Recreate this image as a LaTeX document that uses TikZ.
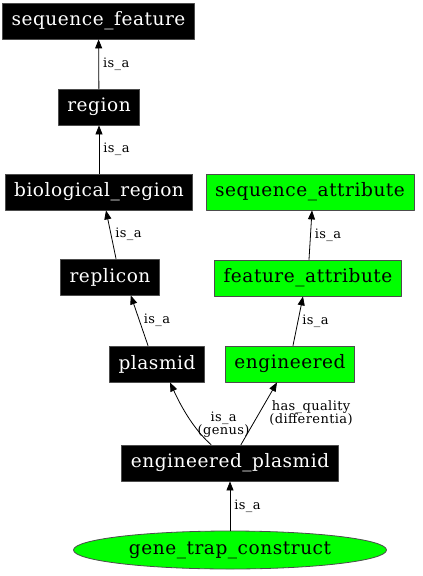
\documentclass[tikz,border=0pt]{standalone}
\usepackage{fontspec}
\setmainfont{DejaVu Serif}[LetterSpace=3]
\usetikzlibrary{arrows.meta,shapes.geometric}

\begin{document}
\begin{tikzpicture}[x=1pt,y=-1pt,line cap=round,line join=round,
    term/.style={draw=black!70,line width=.8pt,fill=black,text=white,minimum height=36pt,inner xsep=9pt,font=\fontsize{18.5}{20}\selectfont},
    attr/.style={term,fill=green,text=black},
    rel/.style={-{Triangle[length=9pt,width=7pt]},line width=.8pt},
    lab/.style={font=\fontsize{13}{13}\selectfont,align=center,inner sep=2pt}]
  \useasboundingbox (0,0) rectangle (423,576);
  % terms
  \node[term] (sf) at (98.5,21) {sequence\_feature};
  \node[term] (rg) at (99,107) {region};
  \node[term] (br) at (99,192) {biological\_region};
  \node[term] (rp) at (110,277) {replicon};
  \node[term] (pl) at (157,364) {plasmid};
  \node[term] (ep) at (230,463) {engineered\_plasmid};
  % attributes
  \node[attr] (sa) at (310,192) {sequence\_attribute};
  \node[attr] (fa) at (308,278) {feature\_attribute};
  \node[attr] (en) at (290,364) {engineered};
  \node[attr,ellipse,minimum width=313pt,minimum height=38pt] (gt) at (230,550) {gene\_trap\_construct};
  % relations
  \draw[rel] (rg) -- node[lab,right=2pt] {is\_a} (sf);
  \draw[rel] (br) -- node[lab,right=2pt] {is\_a} (rg);
  \draw[rel] ([xshift=6pt]rp.north) -- node[lab,right=2pt] {is\_a} ([xshift=7pt]br.south);
  \draw[rel] ([xshift=-9pt]pl.north) -- node[lab,right=2pt] {is\_a} ([xshift=-29pt]rp.south east);
  \draw[rel] ([xshift=3pt]en.north) -- node[lab,right=2pt] {is\_a} ([xshift=-5pt]fa.south);
  \draw[rel] ([xshift=1pt]fa.north) -- node[lab,right=2pt] {is\_a} ([xshift=2pt]sa.south);
  \draw[rel] ([xshift=-19pt]ep.north) .. controls (198,433) and (185,415) .. node[lab,right=2pt,pos=.45] {is\_a\\(genus)} ([xshift=13pt]pl.south);
  \draw[rel] ([xshift=11pt]ep.north) -- node[lab,right=8pt] {has\_quality\\(differentia)} ([xshift=-13pt]en.south);
  \draw[rel] (gt) -- node[lab,right=2pt] {is\_a} (ep);
\end{tikzpicture}
\end{document}
